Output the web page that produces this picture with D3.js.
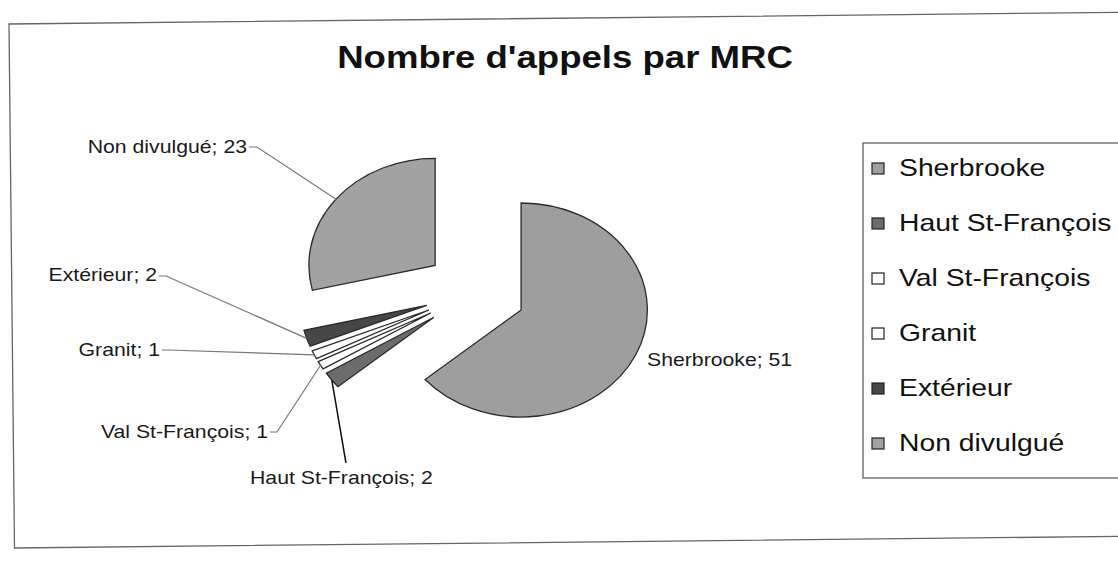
<!DOCTYPE html>
<html>
<head>
<meta charset="utf-8">
<script src="https://cdn.jsdelivr.net/npm/d3@7"></script>
<style>
  body { margin: 0; background: #fff; }
  svg { display: block; font-family: "Liberation Sans", Arial, sans-serif; }
</style>
</head>
<body>
<svg id="chart" width="1118" height="561"></svg>
<script>
// data
const categories = ['Sherbrooke', 'Haut St-François', 'Val St-François', 'Granit', 'Extérieur', 'Non divulgué'];
const values = [51, 2, 1, 1, 2, 23];
const sliceColors = ['#9e9e9e', '#6c6c6c', '#ffffff', '#ffffff', '#474747', '#a2a2a2'];

const titleText = "Nombre d'appels par MRC";

// label placement (end point of text for left labels)
const labelPos = {
  'Sherbrooke':       { x: 647, y: 366, anchor: 'start', elbow: null },
  'Haut St-François': { x: 250, y: 484, anchor: 'start', elbow: [346, 463] },
  'Val St-François':  { x: 268, y: 438, anchor: 'end',   elbow: [277, 432] },
  'Granit':           { x: 160, y: 356, anchor: 'end',   elbow: [168, 350] },
  'Extérieur':        { x: 157, y: 281, anchor: 'end',   elbow: [166, 276] },
  'Non divulgué':     { x: 247, y: 153, anchor: 'end',   elbow: [257, 147] }
};

const svg = d3.select('#chart');
const sx = 1.18;          // the scan is stretched horizontally
const cx = 475, cy = 292; // pie centre
const radius = 107;
const explode = 43;

// frame of the chart (scan is slightly tilted)
svg.append('rect')
  .attr('x', 9).attr('y', 24)
  .attr('width', 1130).attr('height', 524)
  .attr('transform', 'rotate(-0.6 9 24)')
  .style('fill', 'none')
  .style('stroke', '#666')
  .style('stroke-width', 1.3);

// title
svg.append('text')
  .attr('transform', `translate(565,68) scale(${sx},1)`)
  .attr('text-anchor', 'middle')
  .style('font-size', '31px')
  .style('font-weight', 'bold')
  .style('fill', '#111')
  .text(titleText);

const data = categories.map((c, i) => ({ name: c, value: values[i] }));
const color = d3.scaleOrdinal().domain(categories).range(sliceColors);

const pie = d3.pie().sort(null).value((d) => d.value);
const arcs = pie(data);
const arcGen = d3.arc().innerRadius(0).outerRadius(radius);

// offset of an exploded slice
function sliceOrigin(d) {
  const mid = (d.startAngle + d.endAngle) / 2;
  return [cx + sx * explode * Math.sin(mid), cy - explode * Math.cos(mid)];
}
// outer point of a slice at its mid angle
function outerPoint(d) {
  const mid = (d.startAngle + d.endAngle) / 2;
  const o = sliceOrigin(d);
  return [o[0] + sx * radius * Math.sin(mid), o[1] - radius * Math.cos(mid)];
}

const slices = svg.append('g').attr('class', 'slices');
slices.selectAll('path')
  .data(arcs)
  .enter().append('path')
  .attr('transform', (d) => {
    const o = sliceOrigin(d);
    return `translate(${o[0]},${o[1]}) scale(${sx},1)`;
  })
  .attr('d', arcGen)
  .attr('vector-effect', 'non-scaling-stroke')
  .style('fill', (d) => color(d.data.name))
  .style('stroke', '#2a2a2a')
  .style('stroke-width', 1.3);

// leader lines
const leaders = svg.append('g').attr('class', 'leaders');
arcs.forEach((d) => {
  const lp = labelPos[d.data.name];
  if (!lp.elbow) return;
  const p = outerPoint(d);
  const pts = [];
  if (lp.anchor === 'end') pts.push([lp.x + 2, lp.elbow[1]]);
  pts.push(lp.elbow, p);
  leaders.append('path')
    .attr('d', d3.line()(pts))
    .style('fill', 'none')
    .style('stroke', d.data.name === 'Haut St-François' ? '#111' : '#777')
    .style('stroke-width', d.data.name === 'Haut St-François' ? 1.5 : 1.2);
});

// data labels
svg.append('g').attr('class', 'labels')
  .selectAll('text')
  .data(arcs)
  .enter().append('text')
  .attr('transform', (d) => {
    const lp = labelPos[d.data.name];
    return `translate(${lp.x},${lp.y}) scale(${sx},1)`;
  })
  .attr('text-anchor', (d) => labelPos[d.data.name].anchor)
  .style('font-size', '18px')
  .style('fill', '#1a1a1a')
  .text((d) => d.data.name + '; ' + d.data.value);

// legend
const legend = svg.append('g').attr('class', 'legend');
legend.append('rect')
  .attr('x', 863).attr('y', 143)
  .attr('width', 270).attr('height', 335)
  .style('fill', '#fff')
  .style('stroke', '#555')
  .style('stroke-width', 1.2);

const legendY = d3.scalePoint().domain(categories).range([168, 443]);
const items = legend.selectAll('g.item')
  .data(categories)
  .enter().append('g')
  .attr('class', 'item');
items.append('rect')
  .attr('x', 872)
  .attr('y', (d) => legendY(d) - 5)
  .attr('width', 12).attr('height', 11)
  .style('fill', (d) => color(d))
  .style('stroke', '#222')
  .style('stroke-width', 1.2);
items.append('text')
  .attr('transform', (d) => `translate(899,${legendY(d) + 8}) scale(${sx},1)`)
  .style('font-size', '24px')
  .style('fill', '#111')
  .text((d) => d);
</script>
</body>
</html>
